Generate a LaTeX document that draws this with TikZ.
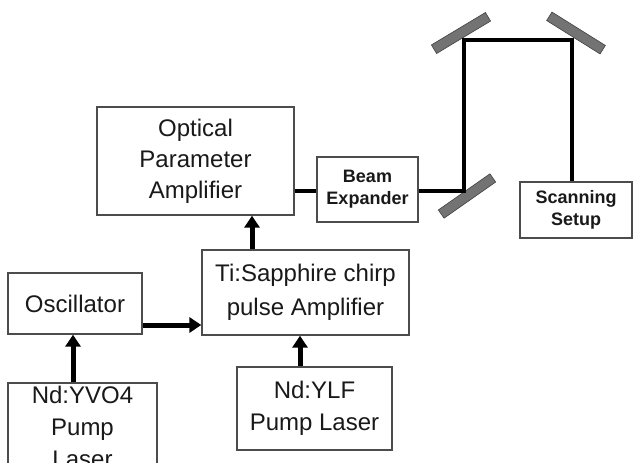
\documentclass[tikz,border=0pt]{standalone}
\usepackage{fontspec}
\setmainfont{Liberation Sans}
\usetikzlibrary{arrows.meta}
\begin{document}
\begin{tikzpicture}[x=1pt,y=-1pt,
  box/.style={draw=black!70, line width=1.3pt, fill=white, align=center, inner sep=0pt, text=black!90, font=\fontsize{24}{31}\selectfont},
  smallbox/.style={box, font=\bfseries\fontsize{18}{22}\selectfont},
  beam/.style={line width=4pt, black},
  arr/.style={line width=5pt, black, -{Triangle[length=12pt,width=15pt]}},
  mirror/.style={draw=black!75, fill=black!55, line width=0.6pt, minimum width=63pt, minimum height=10pt, inner sep=0pt}]
\clip (0,0) rectangle (637,463);
\fill[white] (0,0) rectangle (637,463);
% boxes
\node[box, minimum width=197pt, minimum height=108pt] (opa) at (195.5,161) {Optical\\Parameter\\Amplifier};
\node[smallbox, minimum width=101pt, minimum height=65pt] (be) at (367.5,189.5) {Beam\\Expander};
\node[smallbox, minimum width=112pt, minimum height=56pt] (ss) at (576,210) {Scanning\\Setup};
\node[box, minimum width=134pt, minimum height=61pt] (osc) at (75,303.5) {Oscillator};
\node[box, minimum width=207pt, minimum height=85pt, font=\fontsize{24}{34}\selectfont] (ti) at (305.5,292.5) {Ti:Sapphire chirp\\pulse Amplifier};
\node[box, minimum width=149pt, minimum height=88pt, font=\fontsize{24}{32}\selectfont] (yvo) at (82.5,427) {Nd:YVO4\\Pump\\Laser};
\node[box, minimum width=155pt, minimum height=83pt, font=\fontsize{24}{32}\selectfont] (ylf) at (314.5,408.5) {Nd:YLF\\Pump Laser};
% mirrors
\node[mirror, rotate=35] (mb) at (467,196) {};
\node[mirror, rotate=31] (mtl) at (461,33) {};
\node[mirror, rotate=-32] (mtr) at (576,33) {};
% beam path
\coordinate (c1) at (464,191);
\coordinate (c2) at (464,40);
\coordinate (c3) at (572,40);
\draw[beam] (opa.east |- c1) -- (be.west |- c1);
\draw[beam, line join=miter] (be.east |- c1) -- (c1) -- (c2) -- (c3) -- (c3 |- ss.north);
% arrows
\coordinate (a1) at (73,0);
\coordinate (a2) at (300,0);
\coordinate (a3) at (252,0);
\coordinate (a4) at (0,325);
\draw[arr] (yvo.north -| a1) -- (osc.south -| a1);
\draw[arr] (ylf.north -| a2) -- (ti.south -| a2);
\draw[arr] (ti.north -| a3) -- (opa.south -| a3);
\draw[arr] (osc.east |- a4) -- (ti.west |- a4);
\end{tikzpicture}
\end{document}
